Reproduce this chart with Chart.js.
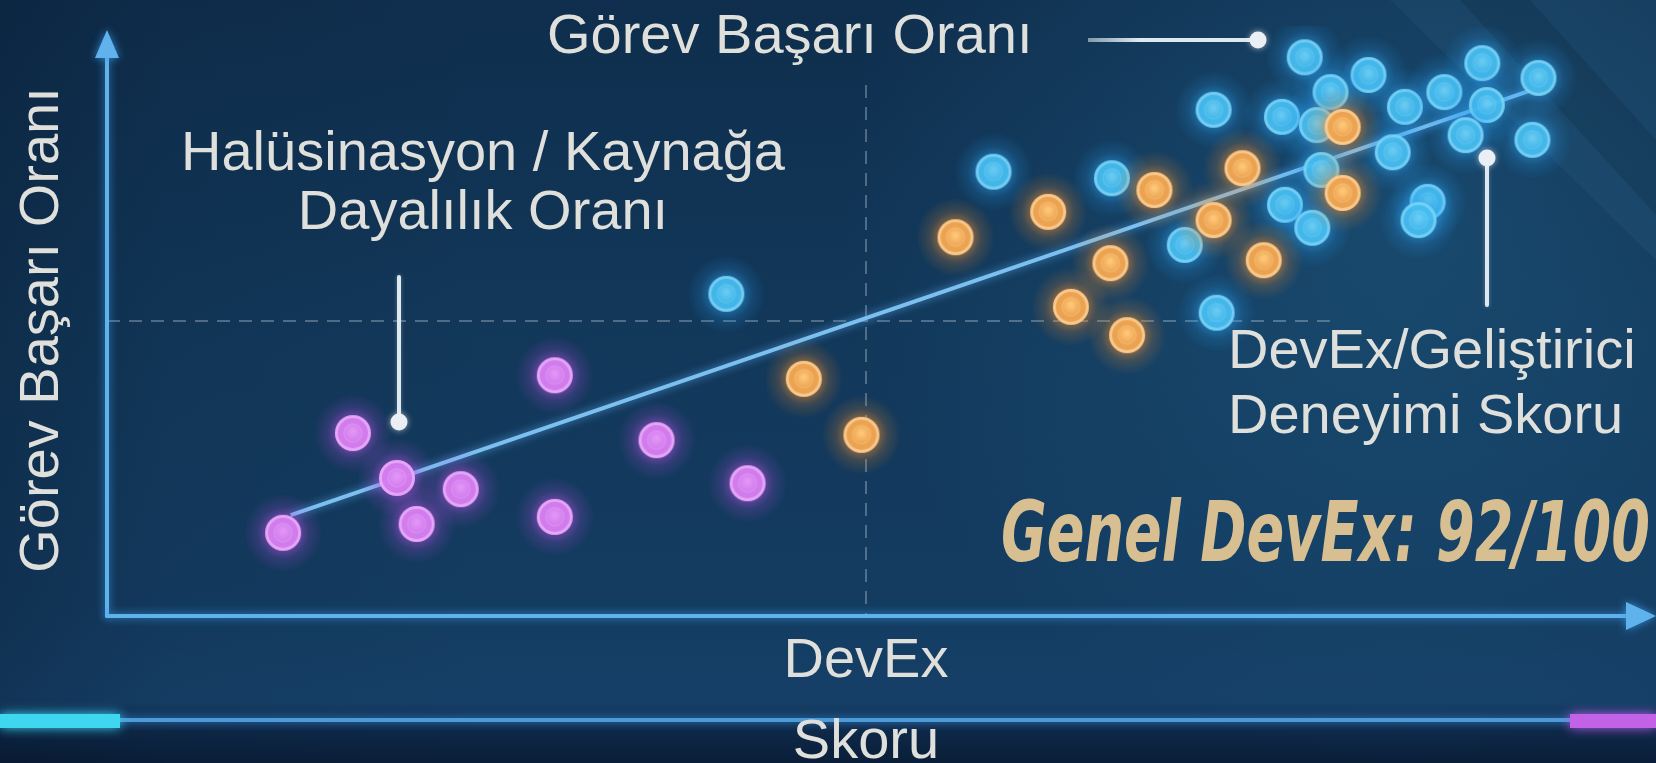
<!DOCTYPE html>
<html><head><meta charset="utf-8">
<script src="https://cdn.jsdelivr.net/npm/chart.js@4.4.1/dist/chart.umd.min.js"></script>
<style>
html,body{margin:0;padding:0;width:1656px;height:763px;overflow:hidden;background:#0f2d4c;}
canvas{display:block;}
</style></head><body>
<canvas id="c" width="1656" height="763"></canvas>
<script>
// ---- data (x: DevEx skoru 0-100, y: görev başarı oranı 0-100) ----
const purpleX = [11.6, 16.2, 19.1, 20.4, 23.3, 29.5, 29.5, 36.2, 42.2];
const purpleY = [14.1, 31.0, 23.4, 15.6, 21.5, 40.8, 16.8, 29.8, 22.5];
const orangeX = [45.9, 49.7, 55.9, 62.0, 63.5, 66.1, 67.2, 69.0, 72.9, 74.8, 76.2, 81.4, 81.4];
const orangeY = [40.2, 30.7, 64.2, 68.5, 52.4, 59.8, 47.6, 72.2, 67.1, 75.9, 60.3, 82.9, 71.7];
const blueX = [40.8, 58.4, 66.2, 71.0, 73.1, 72.9, 77.4, 78.9, 83.1, 80.6, 79.7, 85.5, 88.1, 90.6, 94.3, 90.9, 89.5, 93.9, 84.7, 80.0, 77.6, 79.4, 87.0, 86.4];
const blueY = [54.6, 75.3, 74.2, 62.9, 51.4, 85.8, 84.6, 94.7, 91.7, 88.8, 83.2, 86.3, 88.8, 93.7, 91.2, 86.6, 81.5, 80.7, 78.6, 75.6, 69.7, 65.8, 70.2, 67.1];
const trendX = [12.1, 93.7];
const trendY = [17.1, 89.0];
const refLineX = 50;
const refLineY = 50;
const axisMin = 0, axisMax = 100;

const yTitle = 'Görev Başarı Oranı';
const xTitle = ['DevEx', 'Skoru'];
const topLabel = 'Görev Başarı Oranı';
const leftLabel = ['Halüsinasyon / Kaynağa', 'Dayalılık Oranı'];
const rightLabel = ['DevEx/Geliştirici', 'Deneyimi Skoru'];
const scoreLabel = 'Genel DevEx: 92/100';

const toPts = (xs, ys) => xs.map((x, i) => ({x, y: ys[i]}));

const TEXT = '#dfdfdb';
const SANS = "'Liberation Sans', Arial, sans-serif";

function makeSprite(core, light, ring, glow) {
  const s = 80, c = s / 2, r = 18;
  const cv = document.createElement('canvas');
  cv.width = s; cv.height = s;
  const g = cv.getContext('2d');
  let h = g.createRadialGradient(c, c, r - 4, c, c, c);
  h.addColorStop(0, glow.replace('A', '0.55'));
  h.addColorStop(0.45, glow.replace('A', '0.18'));
  h.addColorStop(1, glow.replace('A', '0'));
  g.fillStyle = h; g.fillRect(0, 0, s, s);
  let b = g.createRadialGradient(c, c - 2, 1, c, c, r);
  b.addColorStop(0, light);
  b.addColorStop(0.55, core);
  b.addColorStop(0.85, core);
  b.addColorStop(1, ring);
  g.fillStyle = b;
  g.beginPath(); g.arc(c, c, r, 0, Math.PI * 2); g.fill();
  g.strokeStyle = ring; g.lineWidth = 2; g.globalAlpha = 0.7;
  g.beginPath(); g.arc(c, c, r - 2, 0, Math.PI * 2); g.stroke();
  g.globalAlpha = 0.25; g.lineWidth = 1.5;
  g.beginPath(); g.arc(c, c, r * 0.5, 0, Math.PI * 2); g.stroke();
  return cv;
}

function glowLine(ctx, pts, color, width, glow, blur) {
  ctx.save();
  ctx.strokeStyle = color; ctx.lineWidth = width; ctx.lineCap = 'round';
  ctx.shadowColor = glow; ctx.shadowBlur = blur;
  ctx.beginPath(); ctx.moveTo(pts[0][0], pts[0][1]);
  for (let i = 1; i < pts.length; i++) ctx.lineTo(pts[i][0], pts[i][1]);
  ctx.stroke(); ctx.restore();
}

const bgPlugin = {
  id: 'bg',
  beforeDraw(chart) {
    const {ctx, width, height} = chart;
    ctx.save();
    let g = ctx.createLinearGradient(0, 0, 0, height);
    g.addColorStop(0, '#0f2e4d');
    g.addColorStop(0.45, '#12385a');
    g.addColorStop(0.80, '#143c61');
    g.addColorStop(0.92, '#164068');
    g.addColorStop(0.955, '#0e2949');
    g.addColorStop(1, '#0a1e38');
    ctx.fillStyle = g; ctx.fillRect(0, 0, width, height);
    let h = ctx.createLinearGradient(0, 0, width, 0);
    h.addColorStop(0, 'rgba(4,16,34,0.25)');
    h.addColorStop(0.1, 'rgba(4,16,34,0.08)');
    h.addColorStop(0.3, 'rgba(4,16,34,0)');
    h.addColorStop(1, 'rgba(4,16,34,0)');
    ctx.fillStyle = h; ctx.fillRect(0, 0, width, height);
    let r = ctx.createRadialGradient(1400, 200, 20, 1400, 200, 560);
    r.addColorStop(0, 'rgba(40,115,160,0.32)');
    r.addColorStop(1, 'rgba(40,115,160,0)');
    ctx.fillStyle = r; ctx.fillRect(0, 0, width, height);
    ctx.fillStyle = 'rgba(80,140,180,0.09)';
    ctx.beginPath(); ctx.moveTo(1390, 0); ctx.lineTo(1656, 0); ctx.lineTo(1656, 260); ctx.closePath(); ctx.fill();
    ctx.fillStyle = 'rgba(8,25,45,0.18)';
    ctx.beginPath(); ctx.moveTo(1460, 0); ctx.lineTo(1530, 0); ctx.lineTo(1656, 140); ctx.lineTo(1656, 215); ctx.closePath(); ctx.fill();
    ctx.restore();
  },
  beforeDatasetsDraw(chart) {
    const {ctx} = chart;
    const sx = chart.scales.x, sy = chart.scales.y;
    const x0 = sx.getPixelForValue(axisMin), y0 = sy.getPixelForValue(axisMin);
    ctx.save();
    ctx.strokeStyle = 'rgba(190,205,220,0.36)'; ctx.lineWidth = 2; ctx.setLineDash([13, 9]);
    const vx = sx.getPixelForValue(refLineX);
    ctx.beginPath(); ctx.moveTo(vx, sy.getPixelForValue(90)); ctx.lineTo(vx, y0); ctx.stroke();
    const hy = sy.getPixelForValue(refLineY);
    ctx.beginPath(); ctx.moveTo(x0, hy); ctx.lineTo(sx.getPixelForValue(81), hy); ctx.stroke();
    ctx.restore();
    const axCol = '#5fb2ec';
    glowLine(ctx, [[x0, y0], [x0, 50]], axCol, 4, 'rgba(60,160,240,0.8)', 8);
    glowLine(ctx, [[x0, y0], [1632, y0]], axCol, 4, 'rgba(60,160,240,0.8)', 8);
    ctx.save();
    ctx.fillStyle = axCol; ctx.shadowColor = 'rgba(60,160,240,0.8)'; ctx.shadowBlur = 8;
    ctx.beginPath(); ctx.moveTo(x0, 30); ctx.lineTo(x0 - 12, 58); ctx.lineTo(x0 + 12, 58); ctx.closePath(); ctx.fill();
    ctx.beginPath(); ctx.moveTo(1656, y0); ctx.lineTo(1626, y0 - 14); ctx.lineTo(1626, y0 + 14); ctx.closePath(); ctx.fill();
    ctx.restore();
    glowLine(ctx, [[0, 720], [1656, 720]], '#4c9bd8', 4, 'rgba(60,150,230,0.9)', 10);
    ctx.save();
    ctx.shadowColor = 'rgba(60,220,250,0.9)'; ctx.shadowBlur = 12;
    ctx.fillStyle = '#3fd6f0'; ctx.fillRect(0, 714, 120, 14);
    ctx.shadowColor = 'rgba(200,90,240,0.9)';
    ctx.fillStyle = '#c262e6'; ctx.fillRect(1570, 714, 86, 14);
    ctx.restore();
  },
  beforeDatasetDraw(chart, args) {
    const ds = chart.data.datasets[args.index];
    chart.ctx.save();
    chart.ctx.shadowColor = ds.glow || 'transparent';
    chart.ctx.shadowBlur = ds.glowBlur || 0;
  },
  afterDatasetDraw(chart) {
    chart.ctx.restore();
  },
  afterDatasetsDraw(chart) {
    const {ctx} = chart;
    const lineCol = '#dde8f1';
    ctx.save();
    let lg = ctx.createLinearGradient(1088, 0, 1258, 0);
    lg.addColorStop(0, 'rgba(220,232,241,0.55)'); lg.addColorStop(0.3, lineCol); lg.addColorStop(1, lineCol);
    ctx.strokeStyle = lg; ctx.lineWidth = 4;
    ctx.beginPath(); ctx.moveTo(1088, 40); ctx.lineTo(1256, 40); ctx.stroke();
    ctx.restore();
    const dot = (x, y) => { ctx.save(); ctx.fillStyle = '#e9eff5'; ctx.shadowColor = 'rgba(255,255,255,0.6)'; ctx.shadowBlur = 6; ctx.beginPath(); ctx.arc(x, y, 8.5, 0, Math.PI * 2); ctx.fill(); ctx.restore(); };
    dot(1258, 40);
    glowLine(ctx, [[399, 277], [399, 420]], lineCol, 4, 'rgba(255,255,255,0.3)', 4);
    dot(399, 422);
    glowLine(ctx, [[1487, 160], [1487, 305]], lineCol, 4, 'rgba(255,255,255,0.3)', 4);
    dot(1487, 158);

    ctx.save();
    ctx.fillStyle = TEXT;
    ctx.font = `56px ${SANS}`;
    ctx.textBaseline = 'alphabetic';
    ctx.textAlign = 'left';
    ctx.fillText(topLabel, 547, 53);
    ctx.textAlign = 'center';
    ctx.fillText(leftLabel[0], 483, 170);
    ctx.fillText(leftLabel[1], 483, 229);
    ctx.textAlign = 'left';
    ctx.fillText(rightLabel[0], 1228, 368);
    ctx.fillText(rightLabel[1], 1228, 433);
    ctx.textAlign = 'center';
    const cx = (chart.chartArea.left + chart.chartArea.right) / 2;
    ctx.fillText(xTitle[0], cx, 677);
    ctx.fillText(xTitle[1], cx, 758);
    ctx.save();
    ctx.translate(58, 330); ctx.rotate(-Math.PI / 2);
    ctx.textAlign = 'center';
    ctx.fillText(yTitle, 0, 0);
    ctx.restore();
    ctx.font = `italic bold 84px 'DejaVu Sans', sans-serif`;
    try { ctx.fontStretch = 'condensed'; } catch (e) {}
    const w = ctx.measureText(scoreLabel).width;
    ctx.translate(1001, 561);
    ctx.scale(649 / w, 1);
    ctx.textAlign = 'left';
    ctx.fillStyle = '#d8bf92';
    ctx.fillText(scoreLabel, 0, 0);
    ctx.restore();
  }
};

const purpleSprite = makeSprite('rgba(214,126,240,0.96)', 'rgba(226,150,246,1)', 'rgba(238,182,252,0.95)', 'rgba(190,80,235,A)');
const orangeSprite = makeSprite('rgba(240,166,82,0.96)', 'rgba(255,200,120,1)', 'rgba(255,214,160,0.95)', 'rgba(255,145,40,A)');
const blueSprite = makeSprite('rgba(72,190,240,0.9)', 'rgba(110,208,246,0.95)', 'rgba(140,220,250,0.85)', 'rgba(40,160,240,A)');

const ptStyle = (sprite) => ({ pointStyle: sprite, pointRadius: 18, pointHoverRadius: 18 });

new Chart(document.getElementById('c'), {
  type: 'scatter',
  data: {
    datasets: [
      Object.assign({label: 'Halüsinasyon', data: toPts(purpleX, purpleY), order: 1}, ptStyle(purpleSprite)),
      Object.assign({label: 'Görev', data: toPts(orangeX, orangeY), order: 2}, ptStyle(orangeSprite)),
      Object.assign({label: 'DevEx', data: toPts(blueX, blueY), order: 3}, ptStyle(blueSprite)),
      {type: 'line', label: 'Trend', data: toPts(trendX, trendY), order: 10,
       borderColor: '#7cc0f0', borderWidth: 4, pointRadius: 0, fill: false,
       glow: 'rgba(90,170,240,0.8)', glowBlur: 8}
    ]
  },
  options: {
    responsive: false, animation: false, devicePixelRatio: 1,
    layout: {padding: {left: 107, right: 31, top: 26, bottom: 147}},
    scales: {
      x: {type: 'linear', min: axisMin, max: axisMax, display: false},
      y: {type: 'linear', min: axisMin, max: axisMax, display: false}
    },
    plugins: {legend: {display: false}, tooltip: {enabled: false}}
  },
  plugins: [bgPlugin]
});
</script>
</body></html>
